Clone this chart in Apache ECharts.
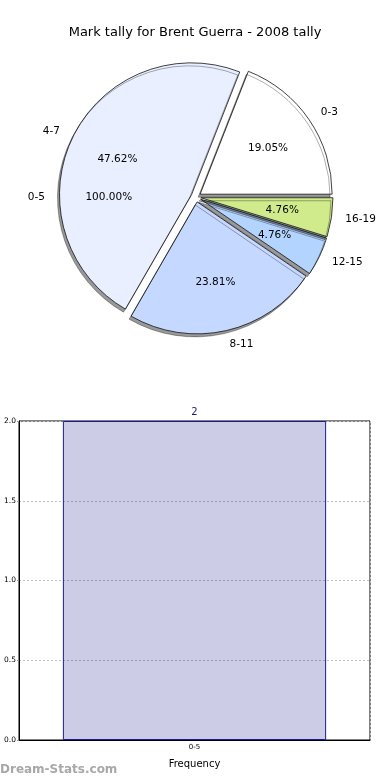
<!DOCTYPE html>
<html>
<head>
<meta charset="utf-8">
<script src="https://cdn.jsdelivr.net/npm/echarts@6/dist/echarts.min.js"></script>
<style>
html,body{margin:0;padding:0;background:#fff;}
#chart{width:390px;height:780px;}
</style>
</head>
<body>
<div id="chart"></div>
<script>
// ---- data ----
const titleText = 'Mark tally for Brent Guerra - 2008 tally';
const pieCategories = ['0-3', '4-7', '8-11', '12-15', '16-19'];
const pieValues = [4, 10, 5, 1, 1];
const pieColors = ['#ffffff', '#e9efff', '#c5d8ff', '#b3d4fe', '#cfeb8b'];
const barCategories = ['0-5'];
const barValues = [2];
const yMin = 0, yMax = 2, yInterval = 0.5;
const watermark = 'Dream-Stats.com';

const FONT = 'DejaVu Sans';
const CX = 196, CY = 197, R = 132, OFF = 5;

const pieData = pieCategories.map((c, i) => ({
  name: c, value: pieValues[i], selected: true,
  itemStyle: { color: pieColors[i] }
}));
const ghostData = pieCategories.map((c, i) => ({
  name: c, value: pieValues[i], selected: true
}));
const histPie = barCategories.map((c, i) => ({ name: c, value: barValues[i], selected: true }));

const sliceStyle = {
  borderColor: '#111', borderWidth: 0.8,
  shadowColor: 'rgba(0,0,0,0.4)', shadowBlur: 0, shadowOffsetX: -2, shadowOffsetY: 3
};
const ghostStyle = { color: 'rgba(0,0,0,0)', borderWidth: 0 };

function pieBase(extra) {
  return Object.assign({
    type: 'pie', center: [CX, CY], startAngle: 0, clockwise: false,
    selectedMode: 'multiple', selectedOffset: OFF, avoidLabelOverlap: false,
    silent: true, animation: false, emphasis: { disabled: true }
  }, extra);
}

const nameLabel = {
  show: true, position: 'outside', fontFamily: FONT, fontSize: 10.5, color: '#000',
  distanceToLabelLine: 0
};
const pctLabel = {
  show: true, position: 'inner', formatter: p => p.percent.toFixed(2) + '%',
  fontFamily: FONT, fontSize: 10.5, color: '#000'
};

const option = {
  backgroundColor: '#fff',
  animation: false,
  title: {
    text: titleText, left: 'center', top: 21,
    textStyle: { fontFamily: FONT, fontSize: 13, fontWeight: 'normal', color: '#000' }
  },
  graphic: [{
    type: 'text', left: 0, top: 764,
    style: { text: watermark, fontFamily: FONT, fontSize: 12, fontWeight: 'bold', fill: '#a8a8a8' }
  }],
  grid: { left: 19, right: 20, top: 421, bottom: 40, show: true, borderColor: '#000', borderWidth: 1, backgroundColor: 'transparent' },
  xAxis: {
    type: 'category', data: barCategories,
    name: 'Frequency', nameLocation: 'middle', nameGap: 19,
    nameTextStyle: { fontFamily: FONT, fontSize: 10, color: '#000' },
    axisLine: { lineStyle: { color: '#000' } },
    axisTick: { show: false },
    axisLabel: { fontFamily: FONT, fontSize: 7, color: '#000', margin: 4 },
    splitLine: { show: true, lineStyle: { color: '#c0c0c0', type: [2, 2], width: 1 } }
  },
  yAxis: {
    type: 'value', min: yMin, max: yMax, interval: yInterval,
    axisLine: { show: true, lineStyle: { color: '#000' } },
    axisTick: { show: true, inside: false, length: 2, lineStyle: { color: '#999' } },
    axisLabel: { fontFamily: FONT, fontSize: 7.5, color: '#000', margin: 3, formatter: v => v.toFixed(1) },
    splitLine: { show: true, lineStyle: { color: '#c0c0c0', type: [2, 2], width: 1 } }
  },
  series: [
    // histogram data as an unfilled single-slice pie (labels only)
    pieBase({ radius: [0, R], data: histPie, itemStyle: ghostStyle, select: { itemStyle: ghostStyle },
      label: nameLabel, labelLine: { show: false, length: 14, length2: 0 } }),
    pieBase({ radius: [0, R * 1.2], data: histPie, itemStyle: ghostStyle, select: { itemStyle: ghostStyle },
      label: pctLabel, labelLine: { show: false } }),
    // main pie
    pieBase({ radius: [0, R], data: pieData, itemStyle: sliceStyle,
      select: { itemStyle: sliceStyle },
      label: nameLabel, labelLine: { show: false, length: 14, length2: 0 } }),
    // percentage labels at 0.6 R
    pieBase({ radius: [0, R * 1.2], data: ghostData, itemStyle: ghostStyle, select: { itemStyle: ghostStyle },
      label: pctLabel, labelLine: { show: false } }),
    {
      type: 'bar', data: barValues, barWidth: '75%', silent: true,
      itemStyle: { color: 'rgba(0,0,128,0.2)', borderColor: '#1a1a99', borderWidth: 1 },
      label: { show: true, position: 'top', distance: 4, fontFamily: FONT, fontSize: 10, color: '#1a1a8c' }
    }
  ]
};

const chart = echarts.init(document.getElementById('chart'), null, { renderer: 'canvas' });
chart.setOption(option);
</script>
</body>
</html>
